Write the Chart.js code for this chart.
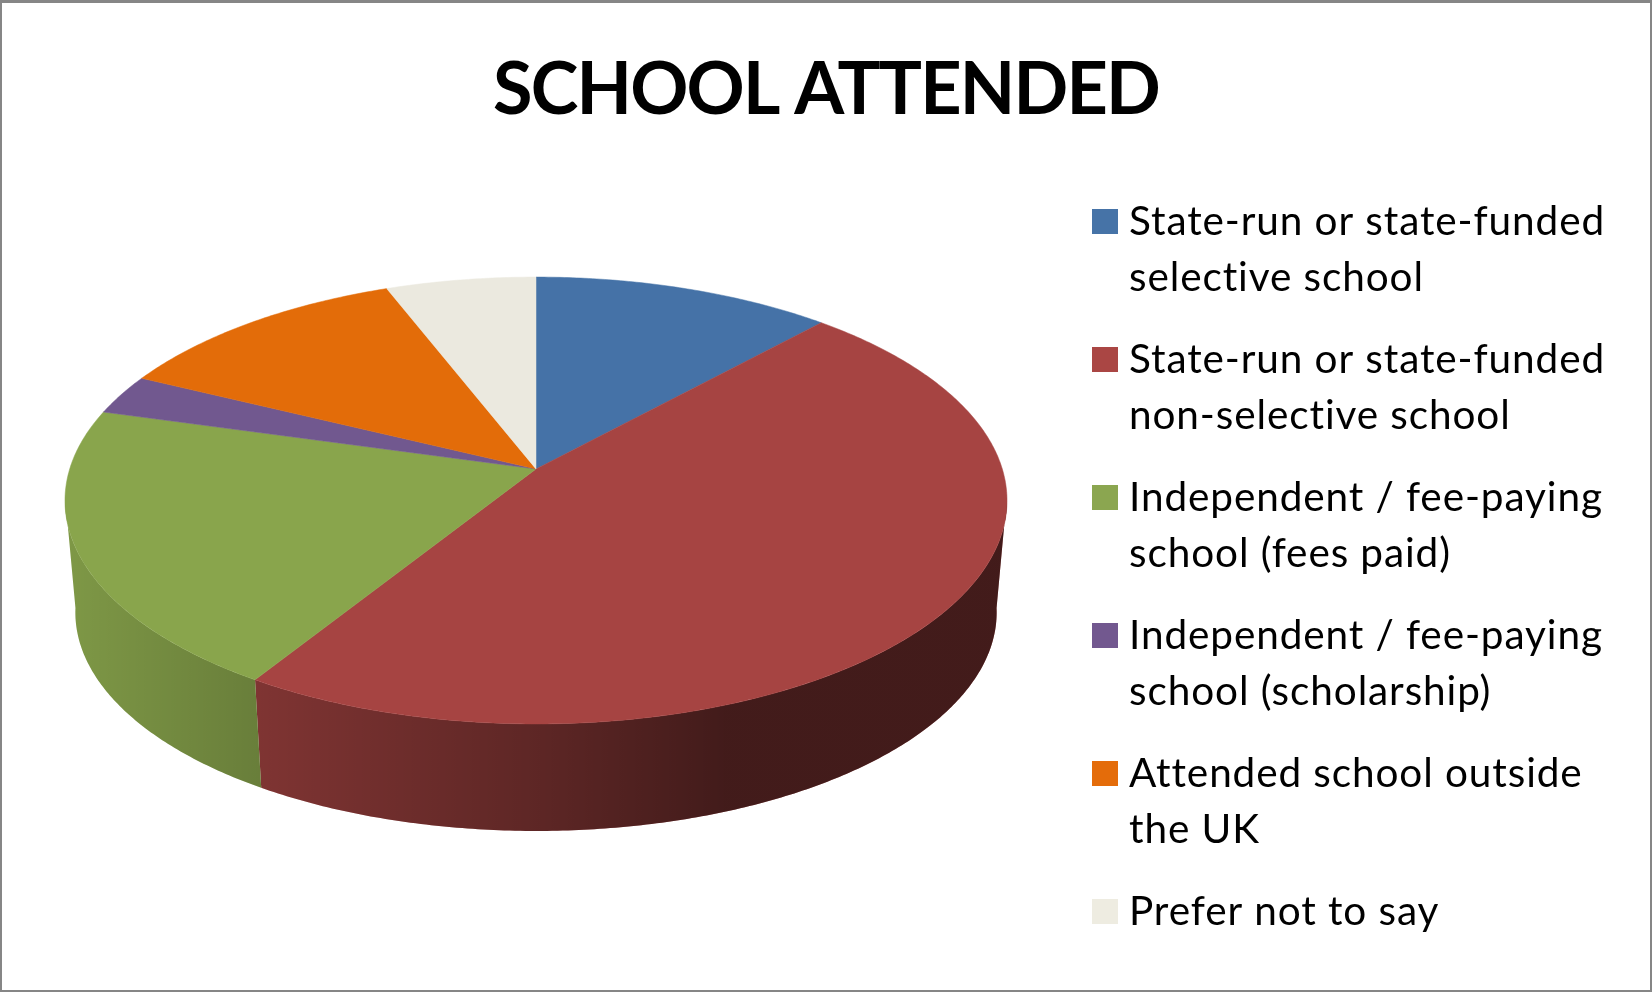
<!DOCTYPE html>
<html>
<head>
<meta charset="utf-8">
<title>School attended</title>
<script src="https://cdn.jsdelivr.net/npm/chart.js@4"></script>
<style>
  html, body { margin: 0; padding: 0; background: #fff; }
  #wrap { position: relative; width: 1652px; height: 992px; box-sizing: border-box;
          border: 2px solid #868686; border-top-width: 3px; overflow: hidden; }
  canvas { position: absolute; left: -2px; top: -3px; }
</style>
</head>
<body>
<div id="wrap"><canvas id="schoolChart" width="1652" height="992"></canvas></div>
<script>
const schoolLabels = [
  ["State-run or state-funded", "selective school"],
  ["State-run or state-funded", "non-selective school"],
  ["Independent / fee-paying", "school (fees paid)"],
  ["Independent / fee-paying", "school (scholarship)"],
  ["Attended school outside", "the UK"],
  ["Prefer not to say"],
];
const schoolValues = [11.8, 47.1, 20.45, 2.9, 11.85, 5.9];
const sliceColors = ["#4572a7", "#a64442", "#89a54c", "#71588f", "#e36c09", "#ebe9df"];
const legendColors = ["#4673a7", "#aa4644", "#8ba650", "#72588f", "#e46c0a", "#eeece1"];

// perspective view of the pie disc
const view = { x: 536, y: 469, a: 466.3, b: 219, k: 0.141, depth: 112.6, shrink: 0.978 };

function rimPoint(angle, low) {
  const w = 1 - view.k * Math.sin(angle);
  const s = low ? view.shrink : 1;
  return {
    x: view.x + s * view.a * Math.cos(angle) / w,
    y: view.y + (low ? view.depth : 0) + s * view.b * Math.sin(angle) / w,
  };
}

function traceRim(ctx, start, end, low, first) {
  const steps = Math.max(2, Math.ceil(Math.abs(end - start) / 0.01));
  for (let i = 0; i <= steps; i++) {
    const p = rimPoint(start + (end - start) * i / steps, low);
    if (i === 0 && first) ctx.moveTo(p.x, p.y);
    else ctx.lineTo(p.x, p.y);
  }
}

const pie3d = {
  id: "pie3d",
  beforeDraw(chart) {
    // tightens the title, which is drawn before the datasets
    chart.ctx.letterSpacing = "-1.8px";
  },
  beforeDatasetDraw(chart, args) {
    const ctx = chart.ctx;
    const arcs = chart.getDatasetMeta(args.index).data;
    const colors = chart.data.datasets[args.index].backgroundColor;
    const wallFrom = Math.asin(view.k) - 0.02;
    const wallTo = Math.PI - wallFrom;

    const shade = ctx.createLinearGradient(65, 0, 1007, 0);
    shade.addColorStop(0, "rgba(0,0,0,0.08)");
    shade.addColorStop(0.21, "rgba(0,0,0,0.24)");
    shade.addColorStop(0.505, "rgba(0,0,0,0.44)");
    shade.addColorStop(0.7, "rgba(0,0,0,0.6)");
    shade.addColorStop(1, "rgba(0,0,0,0.6)");

    // side wall first, the top face goes over it
    ctx.save();
    arcs.forEach((arc, i) => {
      [0, Math.PI * 2].forEach((turn) => {
        const start = Math.max(arc.startAngle + turn, wallFrom);
        const end = Math.min(arc.endAngle + turn, wallTo);
        if (end <= start) return;
        ctx.beginPath();
        traceRim(ctx, start, end, false, true);
        traceRim(ctx, end, start, true, false);
        ctx.closePath();
        ctx.fillStyle = colors[i];
        ctx.fill();
        ctx.fillStyle = shade;
        ctx.fill();
      });
    });

    arcs.forEach((arc, i) => {
      ctx.beginPath();
      ctx.moveTo(view.x, view.y);
      traceRim(ctx, arc.startAngle, arc.endAngle, false, false);
      ctx.closePath();
      ctx.fillStyle = colors[i];
      ctx.strokeStyle = colors[i];
      ctx.lineWidth = 0.5;
      ctx.fill();
      ctx.stroke();
    });
    ctx.restore();
    return false;
  },
};

const sideLegend = {
  id: "sideLegend",
  afterDraw(chart) {
    const ctx = chart.ctx;
    ctx.save();
    ctx.font = "40.5px Lato";
    ctx.letterSpacing = "0.9px";
    ctx.textBaseline = "alphabetic";
    chart.data.labels.forEach((lines, i) => {
      const base = 234 + i * 138;
      ctx.fillStyle = legendColors[i];
      ctx.fillRect(1092, base - 25, 26, 25);
      ctx.fillStyle = "#000";
      lines.forEach((line, n) => ctx.fillText(line, 1129, base + 1 + n * 56));
    });
    ctx.restore();
  },
};

new Chart(document.getElementById("schoolChart").getContext("2d"), {
  type: "pie",
  data: {
    labels: schoolLabels,
    datasets: [{ data: schoolValues, backgroundColor: sliceColors, borderWidth: 0 }],
  },
  options: {
    responsive: false,
    animation: false,
    plugins: {
      legend: { display: false },
      tooltip: { enabled: false },
      title: {
        display: true,
        text: "SCHOOL ATTENDED",
        color: "#000",
        font: { family: "Lato", size: 72, weight: "bold" },
        padding: { top: 48, bottom: 20 },
      },
    },
  },
  plugins: [pie3d, sideLegend],
});
</script>
</body>
</html>
